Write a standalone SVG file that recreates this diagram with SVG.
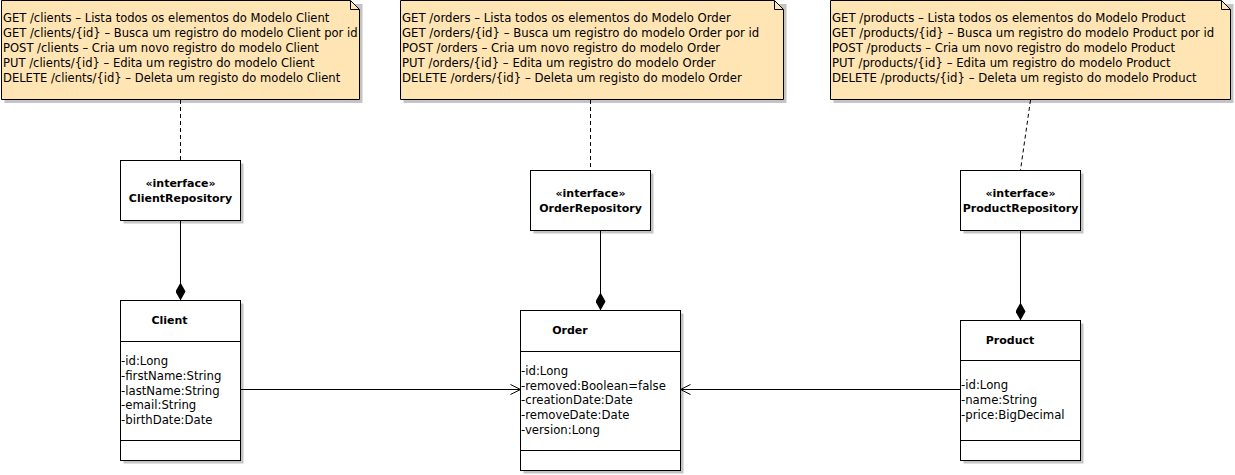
<svg xmlns="http://www.w3.org/2000/svg" width="1235" height="475" viewBox="0 0 1235 475">
<defs>
<style>
text{font-family:"DejaVu Sans","Liberation Sans",Arial,sans-serif;font-size:11.7px;fill:#000}
.n1 text{font-size:11.55px}
.b{font-weight:bold;font-size:11px}
.m{text-anchor:middle}
.note{fill:#FFE4B4;stroke:#000;stroke-width:1}
.shadow{fill:#C4C4C4}
.box{fill:#fff;stroke:#000;stroke-width:1}
.ln{stroke:#000;stroke-width:1;fill:none}
.dash{stroke:#000;stroke-width:1;fill:none;stroke-dasharray:4,3}
</style>
<marker id="diamond" viewBox="0 0 18 10" refX="18" refY="5" markerWidth="18" markerHeight="10" markerUnits="userSpaceOnUse" orient="auto">
<path d="M0,5 L9,0 L18,5 L9,10 Z" fill="#000"/>
</marker>
<marker id="open" viewBox="0 0 12 12" refX="11" refY="6" markerWidth="12" markerHeight="12" markerUnits="userSpaceOnUse" orient="auto">
<path d="M1,1 L11,6 L1,11" fill="none" stroke="#000" stroke-width="1"/>
</marker>
</defs>
<rect width="1235" height="475" fill="#fff"/>

<g id="note-clients" class="n1">
<rect class="shadow" x="4.5" y="4" width="358" height="99"/>
<path class="note" d="M1.5,0.5 L350.5,0.5 L359.5,9.5 L359.5,99.5 L1.5,99.5 Z"/>
<path class="ln" d="M350.5,0.5 L350.5,9.5 L359.5,9.5"/>
<text x="3" y="22">GET /clients – Lista todos os elementos do Modelo Client</text>
<text x="3" y="37">GET /clients/{id} – Busca um registro do modelo Client por id</text>
<text x="3" y="52">POST /clients – Cria um novo registro do modelo Client</text>
<text x="3" y="67">PUT /clients/{id} – Edita um registro do modelo Client</text>
<text x="3" y="82">DELETE /clients/{id} – Deleta um registo do modelo Client</text>
</g>

<g id="note-orders">
<rect class="shadow" x="403.5" y="4" width="383" height="99"/>
<path class="note" d="M400.5,0.5 L774.5,0.5 L783.5,9.5 L783.5,99.5 L400.5,99.5 Z"/>
<path class="ln" d="M774.5,0.5 L774.5,9.5 L783.5,9.5"/>
<text x="402" y="22">GET /orders – Lista todos os elementos do Modelo Order</text>
<text x="402" y="37">GET /orders/{id} – Busca um registro do modelo Order por id</text>
<text x="402" y="52">POST /orders – Cria um novo registro do modelo Order</text>
<text x="402" y="67">PUT /orders/{id} – Edita um registro do modelo Order</text>
<text x="402" y="82">DELETE /orders/{id} – Deleta um registo do modelo Order</text>
</g>

<g id="note-products">
<rect class="shadow" x="833.5" y="4" width="400" height="99"/>
<path class="note" d="M830.5,0.5 L1221.5,0.5 L1230.5,9.5 L1230.5,99.5 L830.5,99.5 Z"/>
<path class="ln" d="M1221.5,0.5 L1221.5,9.5 L1230.5,9.5"/>
<text x="832" y="22">GET /products – Lista todos os elementos do Modelo Product</text>
<text x="832" y="37">GET /products/{id} – Busca um registro do modelo Product por id</text>
<text x="832" y="52">POST /products – Cria um novo registro do modelo Product</text>
<text x="832" y="67">PUT /products/{id} – Edita um registro do modelo Product</text>
<text x="832" y="82">DELETE /products/{id} – Deleta um registo do modelo Product</text>
</g>

<g id="ClientRepository">
<rect class="shadow" x="123.5" y="163.5" width="120" height="60"/>
<rect class="box" x="120.5" y="160.5" width="120" height="60"/>
<text class="b m" x="180.5" y="187">«interface»</text>
<text class="b m" x="180.5" y="202">ClientRepository</text>
</g>

<g id="OrderRepository">
<rect class="shadow" x="533.5" y="173.5" width="120" height="60"/>
<rect class="box" x="530.5" y="170.5" width="120" height="60"/>
<text class="b m" x="590.5" y="197">«interface»</text>
<text class="b m" x="590.5" y="212">OrderRepository</text>
</g>

<g id="ProductRepository">
<rect class="shadow" x="963.5" y="173.5" width="120" height="60"/>
<rect class="box" x="960.5" y="170.5" width="120" height="60"/>
<text class="b m" x="1020.5" y="197">«interface»</text>
<text class="b m" x="1020.5" y="212">ProductRepository</text>
</g>

<g id="Client">
<rect class="shadow" x="123.5" y="303.5" width="120" height="160"/>
<rect class="box" x="120.5" y="300.5" width="120" height="160"/>
<path class="ln" d="M120.5,341.5 H240.5 M120.5,440.5 H240.5"/>
<text class="b m" x="169.5" y="324">Client</text>
<text x="121" y="365">-id:Long</text>
<text x="121" y="380">-firstName:String</text>
<text x="121" y="395">-lastName:String</text>
<text x="121" y="409">-email:String</text>
<text x="121" y="424">-birthDate:Date</text>
</g>

<g id="Order">
<rect class="shadow" x="523.5" y="313.5" width="160" height="160"/>
<rect class="box" x="520.5" y="310.5" width="160" height="160"/>
<path class="ln" d="M520.5,351.5 H680.5 M520.5,450.5 H680.5"/>
<text class="b m" x="570" y="334">Order</text>
<text x="521" y="375">-id:Long</text>
<text x="521" y="390">-removed:Boolean=false</text>
<text x="521" y="404">-creationDate:Date</text>
<text x="521" y="419">-removeDate:Date</text>
<text x="521" y="434">-version:Long</text>
</g>

<g id="Product">
<rect class="shadow" x="963.5" y="323.5" width="120" height="140"/>
<rect class="box" x="960.5" y="320.5" width="120" height="140"/>
<path class="ln" d="M960.5,360.5 H1080.5 M960.5,440.5 H1080.5"/>
<text class="b m" x="1010" y="344">Product</text>
<text x="961" y="389">-id:Long</text>
<text x="961" y="404">-name:String</text>
<text x="961" y="419">-price:BigDecimal</text>
</g>

<g id="connectors">
<path class="dash" d="M180.5,100 V160"/>
<path class="dash" d="M590.5,100 V170"/>
<path class="dash" d="M1030.5,100 L1020.5,170"/>
<path class="ln" d="M180.5,221 V300.5" marker-end="url(#diamond)"/>
<path class="ln" d="M600.5,231 V310.5" marker-end="url(#diamond)"/>
<path class="ln" d="M1020.5,231 V320.5" marker-end="url(#diamond)"/>
<path class="ln" d="M241,389.5 H520.5" marker-end="url(#open)"/>
<path class="ln" d="M960,389.5 H680.5" marker-end="url(#open)"/>
</g>
</svg>
